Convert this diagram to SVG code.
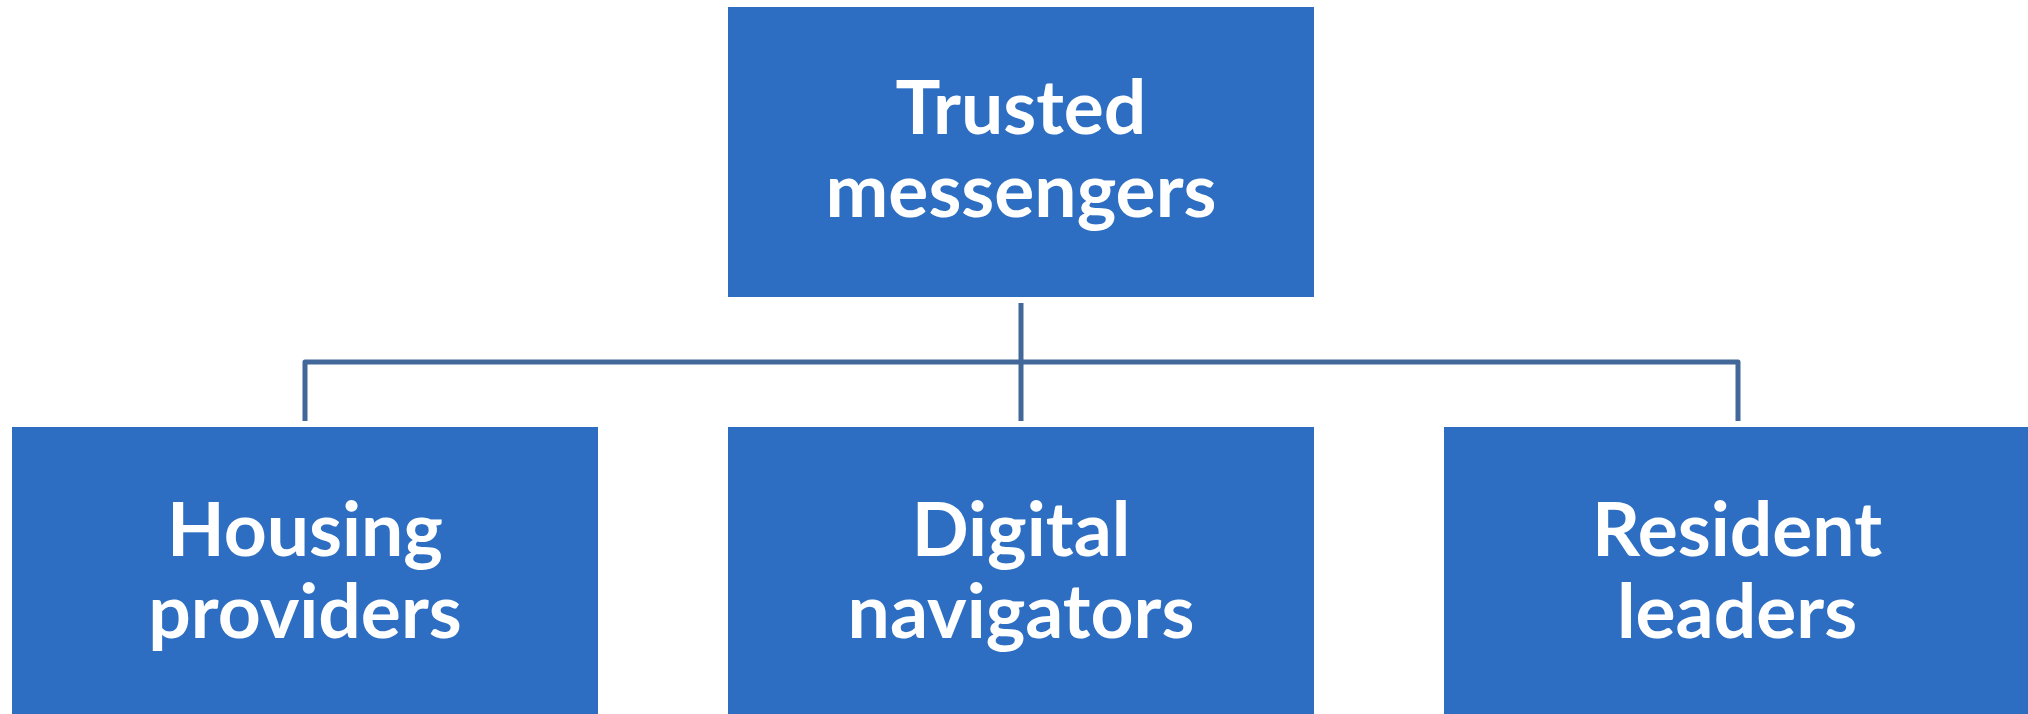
<svg xmlns="http://www.w3.org/2000/svg" width="2028" height="714" viewBox="0 0 2028 714">
<style>
.box{fill:#2D6EC3;}
.lbl{fill:#ffffff;font-family:Lato,"Liberation Sans",sans-serif;font-weight:bold;font-size:75px;text-anchor:middle;}
.conn{fill:none;stroke:#416899;stroke-width:5;stroke-linejoin:round;}
</style>
<rect width="2028" height="714" fill="#ffffff"/>
<g id="connectors">
<path class="conn" d="M1021,303 V421"/>
<path class="conn" d="M305,421 V362 H1738 V421"/>
</g>
<g id="trusted-messengers">
<rect class="box" x="728" y="7" width="586" height="290"/>
<text class="lbl" x="1021" y="134">Trusted</text>
<text class="lbl" x="1021" y="216.5">messengers</text>
</g>
<g id="housing-providers">
<rect class="box" x="12" y="427" width="586" height="290"/>
<text class="lbl" x="305" y="556">Housing</text>
<text class="lbl" x="305" y="637.5">providers</text>
</g>
<g id="digital-navigators">
<rect class="box" x="728" y="427" width="586" height="290"/>
<text class="lbl" x="1021" y="556">Digital</text>
<text class="lbl" x="1021" y="637.5">navigators</text>
</g>
<g id="resident-leaders">
<rect class="box" x="1444" y="427" width="586" height="290"/>
<text class="lbl" x="1737" y="556">Resident</text>
<text class="lbl" x="1737" y="637.5">leaders</text>
</g>
</svg>
